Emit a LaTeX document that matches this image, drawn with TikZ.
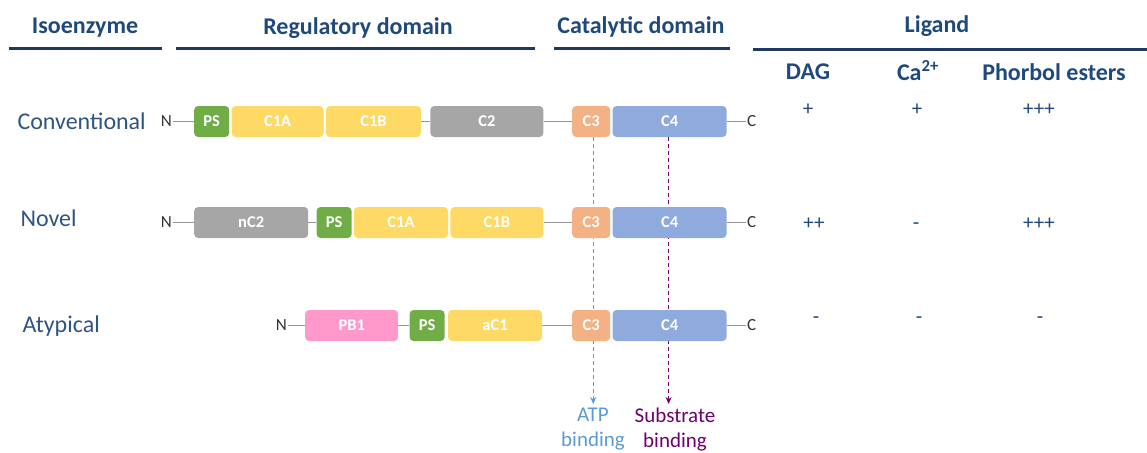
\documentclass[tikz,border=0pt]{standalone}
\usepackage{fontspec}
\setmainfont{Carlito}
\usetikzlibrary{positioning,backgrounds,arrows.meta}
\definecolor{navy}{RGB}{31,56,100}
\definecolor{hdrblue}{RGB}{31,73,125}
\definecolor{rowblue}{RGB}{46,84,130}
\definecolor{psgreen}{RGB}{112,173,71}
\definecolor{c1yellow}{RGB}{255,217,102}
\definecolor{c2gray}{RGB}{166,166,166}
\definecolor{c3orange}{RGB}{244,177,131}
\definecolor{c4blue}{RGB}{143,170,220}
\definecolor{pbpink}{RGB}{255,153,204}
\definecolor{atpblue}{RGB}{91,155,213}
\definecolor{subpurple}{RGB}{112,0,110}
\definecolor{linkgray}{RGB}{150,150,150}

\begin{document}
\begin{tikzpicture}[
    x=1pt, y=-1pt,
    every node/.style={font=\fontsize{16}{18}\selectfont},
    header/.style={font=\fontsize{24}{26}\selectfont\bfseries, text=hdrblue},
    rowname/.style={anchor=west, font=\fontsize{24}{26}\selectfont, text=rowblue},
    score/.style={font=\fontsize{21}{23}\selectfont, text=hdrblue},
    endlabel/.style={font=\fontsize{17}{19}\selectfont, text=black!80, inner sep=1pt},
    dom/.style={rectangle, rounded corners=4pt, minimum height=31pt, inner sep=0pt,
                text=white, font=\fontsize{16.5}{18}\selectfont\bfseries},
    psbox/.style={dom, fill=psgreen, minimum width=35pt},
    cibox/.style={dom, fill=c1yellow},
    ciibox/.style={dom, fill=c2gray},
    ciiibox/.style={dom, fill=c3orange, minimum width=38pt},
    civbox/.style={dom, fill=c4blue, minimum width=114pt},
    pbbox/.style={dom, fill=pbpink},
    link/.style={draw=linkgray, line width=1.2pt},
    hline/.style={draw=navy, line width=3pt},
    atparr/.style={-{Stealth[length=7pt,width=6pt]}, draw=atpblue, dash pattern=on 4pt off 3pt, line width=0.9pt},
    subarr/.style={-{Stealth[length=7pt,width=6pt]}, draw=subpurple, dash pattern=on 4pt off 3pt, line width=0.9pt},
]
\useasboundingbox (0,0) rectangle (1147,452);

% headers
\node[header] (hiso) at (85,28)  {Isoenzyme};
\node[header] (hreg) at (358,28) {Regulatory domain};
\node[header] (hcat) at (641,27) {Catalytic domain};
\node[header] (hlig) at (937,26) {Ligand};
\draw[hline] (9,49)   -- (162,49);
\draw[hline] (176,49) -- (535,49);
\draw[hline] (554,49) -- (730,49);
\draw[hline] (753,50) -- (1147,50);

\node[header] (hdag) at (808,72)  {DAG};
\node[header] (hca)  at (918,71)  {Ca\textsuperscript{2+}};
\node[header] (hpe)  at (1054,72) {Phorbol esters};

% conventional
\node[rowname] (conv) at (14,121) {Conventional};
\node[psbox, anchor=west] (ps1) at (194,121.5) {PS};
\node[cibox, minimum width=92pt, right=2pt of ps1]   (c1a1) {C1A};
\node[cibox, minimum width=95pt, right=2pt of c1a1]  (c1b1) {C1B};
\node[ciibox, minimum width=113pt, right=9pt of c1b1] (c21) {C2};
\node[ciiibox, anchor=west] (c31) at (572,121.5) {C3};
\node[civbox, right=2pt of c31] (c41) {C4};
\node[endlabel, left=21pt of ps1]  (n1) {N};
\node[endlabel, right=19pt of c41] (e1) {C};

% novel
\node[rowname] (nov) at (17,218) {Novel};
\node[ciibox, minimum width=114pt, anchor=west] (nc22) at (194,222.5) {nC2};
\node[psbox, right=8pt of nc22] (ps2) {PS};
\node[cibox, minimum width=94pt, right=2pt of ps2]  (c1a2) {C1A};
\node[cibox, minimum width=93pt, right=2pt of c1a2] (c1b2) {C1B};
\node[ciiibox, anchor=west] (c32) at (572,222.5) {C3};
\node[civbox, right=2pt of c32] (c42) {C4};
\node[endlabel, left=21pt of nc22] (n2) {N};
\node[endlabel, right=19pt of c42] (e2) {C};

% atypical
\node[rowname] (aty) at (19,326) {Atypical};
\node[pbbox, minimum width=93pt, anchor=west] (pb13) at (305,325.5) {PB1};
\node[psbox, right=11pt of pb13] (ps3) {PS};
\node[cibox, minimum width=94pt, right=3pt of ps3] (ac13) {aC1};
\node[ciiibox, anchor=west] (c33) at (572,325.5) {C3};
\node[civbox, right=2pt of c33] (c43) {C4};
\node[endlabel, left=17pt of pb13] (n3) {N};
\node[endlabel, right=19pt of c43] (e3) {C};

% ligand scores
\node[score] (dag1) at (808,110)  {+};
\node[score] (ca1)  at (917,110)  {+};
\node[score] (pe1)  at (1039,110) {+++};
\node[score] (dag2) at (814,224)  {++};
\node[score] (ca2)  at (916,226)  {-};
\node[score] (pe2)  at (1039,224) {+++};
\node[score] (dag3) at (816,320)  {-};
\node[score] (ca3)  at (919,320)  {-};
\node[score] (pe3)  at (1040,320) {-};

% binding sites
\node[align=center, anchor=north, text=atpblue, font=\fontsize{21}{25}\selectfont]
    (atp) at (593,404) {ATP\\binding};
\node[align=center, anchor=north, text=subpurple, font=\fontsize{21}{25}\selectfont]
    (sub) at (675,404) {Substrate\\binding};

\begin{scope}[on background layer]
\draw[link] (n1) -- (ps1);
\draw[link] (c1b1) -- (c21);
\draw[link] (c21) -- (c31);
\draw[link] (c41) -- (e1);
\draw[link] (n2) -- (nc22);
\draw[link] (nc22) -- (ps2);
\draw[link] (c1b2) -- (c32);
\draw[link] (c42) -- (e2);
\draw[link] (n3) -- (pb13);
\draw[link] (pb13) -- (ps3);
\draw[link] (ac13) -- (c33);
\draw[link] (c43) -- (e3);
\draw[atparr] ([xshift=2pt]c31.south) -- ([xshift=2pt]c31.south |- atp.north);
\draw[subarr] ([xshift=-1pt]c41.south) -- ([xshift=-1pt]c41.south |- sub.north);
\end{scope}

\end{tikzpicture}
\end{document}
